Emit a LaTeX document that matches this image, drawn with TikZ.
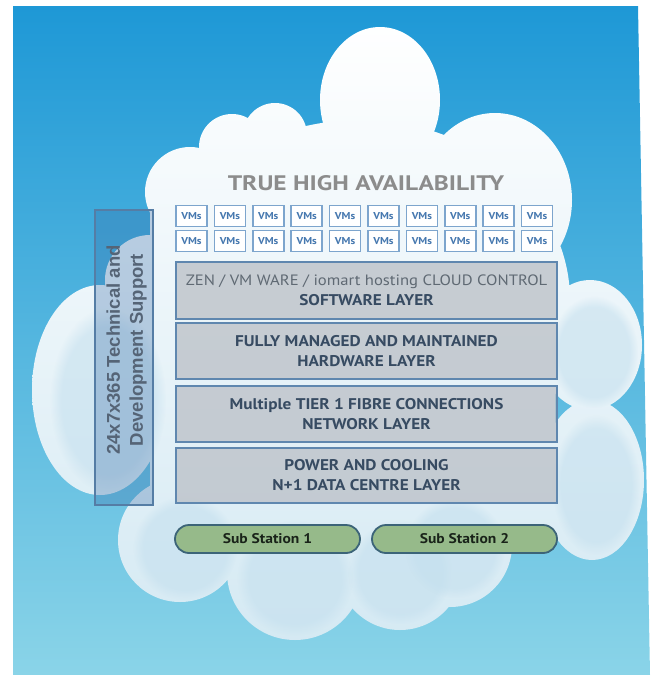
\documentclass[tikz,border=0pt]{standalone}
\usepackage{fontspec}
\usetikzlibrary{fadings}
\setmainfont{PT Sans}[FakeStretch=1.11]
\newfontfamily\titlefont{PT Sans}[FakeStretch=1.21]
\newfontfamily\vfont{Liberation Sans}
\definecolor{skytop}{RGB}{30,152,214}
\definecolor{skybot}{RGB}{138,212,232}
\definecolor{cloudmid}{RGB}{238,246,250}
\definecolor{cloudbot}{RGB}{212,233,243}
\definecolor{cloudin}{RGB}{195,223,238}
\definecolor{vmline}{RGB}{125,165,205}
\definecolor{vmtext}{RGB}{70,120,175}
\definecolor{layerline}{RGB}{95,135,175}
\definecolor{layerfill}{RGB}{188,193,200}
\definecolor{layertext}{RGB}{55,75,98}
\definecolor{swtext}{RGB}{95,105,115}
\definecolor{titlegray}{RGB}{140,140,140}
\definecolor{pillfill}{RGB}{150,186,138}
\definecolor{pillline}{RGB}{60,100,120}
\definecolor{pilltext}{RGB}{25,35,25}
\definecolor{vfill}{RGB}{52,105,165}
\definecolor{vline}{RGB}{85,125,165}
\definecolor{vtext}{RGB}{85,100,118}
\begin{document}
\begin{tikzpicture}[x=1pt,y=1pt,
  vmbox/.style={draw=vmline, line width=1.5pt, fill=white, minimum width=31pt, minimum height=21pt, inner sep=0pt, text=vmtext, font=\bfseries\fontsize{10}{10}\selectfont},
  layer/.style={draw=layerline, line width=1.8pt, fill=layerfill, fill opacity=0.78, text opacity=1, minimum width=381pt, inner sep=0pt, align=center, text=layertext, font=\bfseries\fontsize{15.5}{20}\selectfont},
  pill/.style={draw=pillline, line width=1.8pt, fill=pillfill, rounded corners=14pt, minimum width=185pt, minimum height=28pt, inner sep=0pt, text=pilltext, font=\bfseries\fontsize{14}{16}\selectfont},
  supportbox/.style={draw=vline, line width=1.3pt, fill=vfill, fill opacity=0.3, minimum width=58pt, minimum height=295pt, inner sep=0pt},
  softblob/.style={fill=cloudin, path fading=circle with fuzzy edge 20 percent, fill opacity=0.55},
  cloudclip/.style={insert path={
    (380,-100) ellipse [x radius=60, y radius=73]
    (275,-135) circle [radius=32]
    (232,-147) circle [radius=33]
    (190,-192) circle [radius=45]
    (495,-200) ellipse [x radius=77, y radius=87]
    (360,-300) ellipse [x radius=210, y radius=180]
    (150,-280) circle [radius=45]
    (100,-390) ellipse [x radius=68, y radius=105]
    (150,-200) rectangle (555,-540)
    (180,-540) circle [radius=62]
    (295,-572) circle [radius=68]
    (400,-567) circle [radius=63]
    (450,-545) circle [radius=62]
    (590,-345) ellipse [x radius=52, y radius=65]
    (592,-480) ellipse [x radius=52, y radius=80]}},
]
\useasboundingbox (0,0) rectangle (654,-675);
% sky
\shade[top color=skytop, bottom color=skybot] (13,-6) -- (638,-6) -- (650,-675) -- (13,-675) -- cycle;
% cloud
\begin{scope}
\clip[cloudclip];
\shade[top color=white, middle color=cloudmid, bottom color=cloudbot] (20,-20) rectangle (650,-650);
\fill[softblob] (108,-400) ellipse [x radius=58, y radius=92];
\fill[softblob] (594,-352) ellipse [x radius=44, y radius=56];
\fill[softblob] (596,-485) ellipse [x radius=44, y radius=70];
\fill[softblob] (185,-548) circle [radius=52];
\fill[softblob] (295,-578) circle [radius=58];
\fill[softblob] (400,-572) circle [radius=52];
\fill[softblob] (455,-548) circle [radius=50];
\end{scope}
% title
\node[font=\titlefont\bfseries\fontsize{21}{24}\selectfont, text=titlegray] (title) at (366,-183) {TRUE HIGH AVAILABILITY};
% VMs
\foreach \c in {0,...,9} {
  \node[vmbox] (vma\c) at ({191.5+38.4*\c},-216) {VMs};
  \node[vmbox] (vmb\c) at ({191.5+38.4*\c},-241) {VMs};
}
% layers
\node[layer, minimum height=57pt] (software) at (366.5,-290.5) {\textcolor{swtext}{\mdseries\fontsize{15}{20}\selectfont ZEN / VM WARE / iomart hosting CLOUD CONTROL}\\SOFTWARE LAYER};
\node[layer, minimum height=56pt] (hardware) at (366.5,-351) {FULLY MANAGED AND MAINTAINED\\HARDWARE LAYER};
\node[layer, minimum height=56pt] (network) at (366.5,-414) {Multiple TIER 1 FIBRE CONNECTIONS\\NETWORK LAYER};
\node[layer, minimum height=55pt] (power) at (366.5,-475.5) {POWER AND COOLING\\N+1 DATA CENTRE LAYER};
% support
\node[supportbox] (support) at (124,-357.5) {};
\node[rotate=90, align=center, font=\vfont\bfseries\fontsize{18.5}{23}\selectfont, text=vtext] (supporttext) at (126.5,-350) {24x7x365 Technical and\\Development Support};
% sub stations
\node[pill] (sub1) at (267.5,-539) {Sub Station 1};
\node[pill] (sub2) at (464.5,-539) {Sub Station 2};
\end{tikzpicture}
\end{document}
